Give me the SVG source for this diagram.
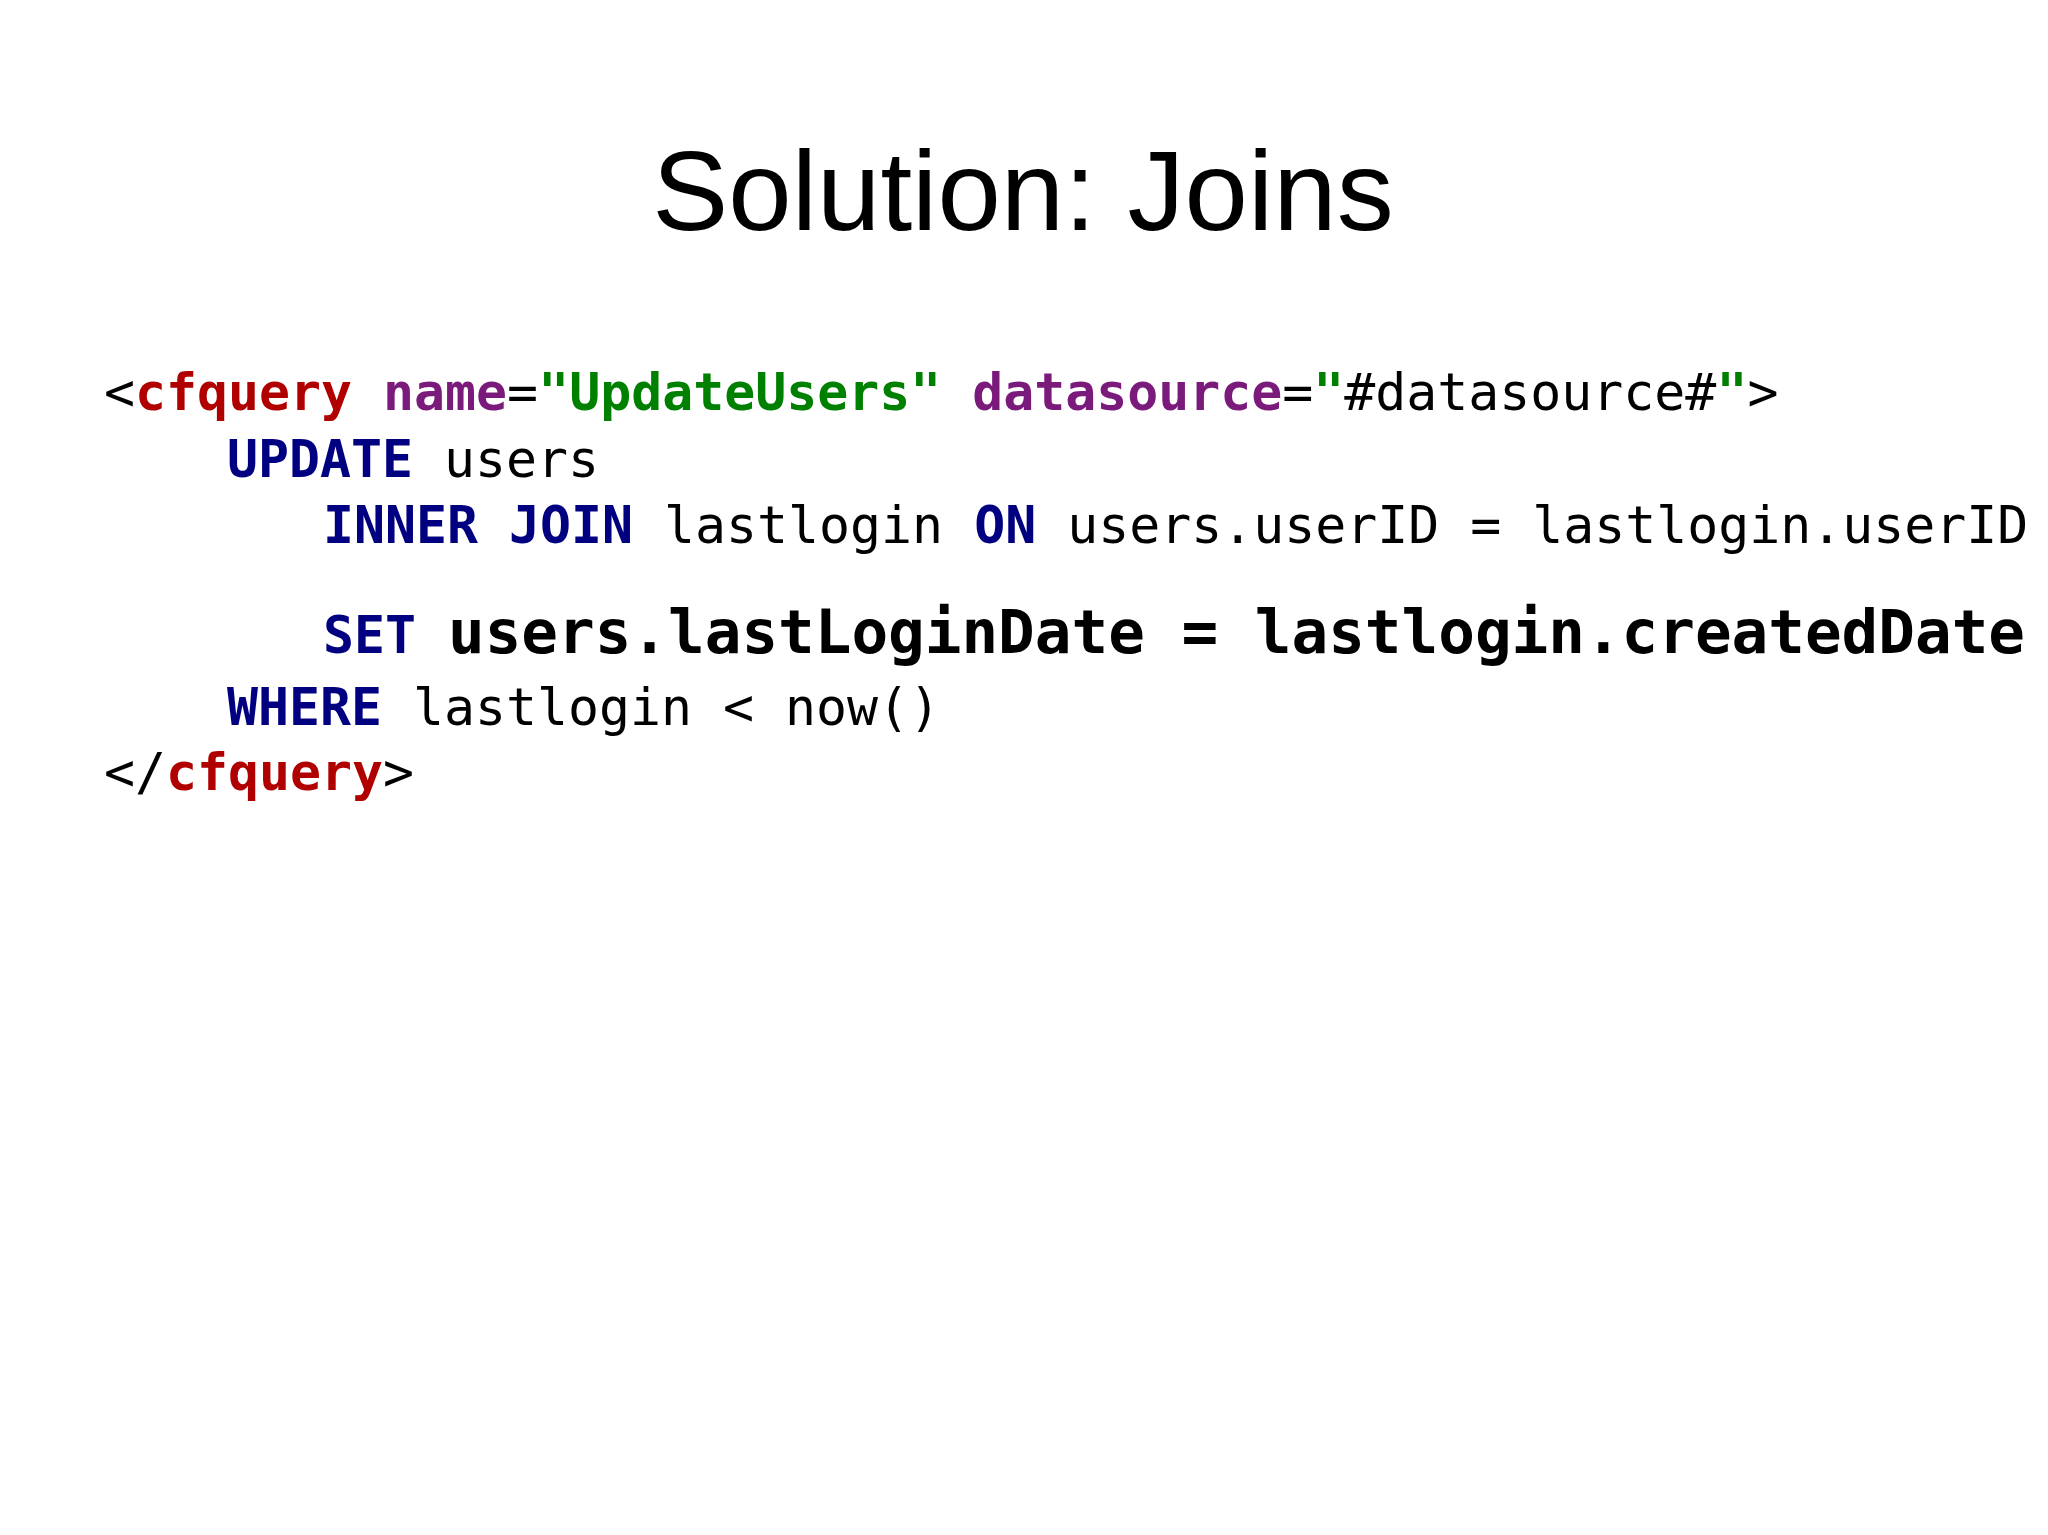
<svg xmlns="http://www.w3.org/2000/svg" width="2048" height="1535" viewBox="0 0 2048 1535">
<style>
.t{font-family:"Liberation Sans",Arial,sans-serif;font-size:114px;fill:#000}
.c{font-family:"DejaVu Sans Mono","Liberation Mono",monospace;font-size:51.5px;fill:#000}
.k{fill:#000080;font-weight:bold}
.r{fill:#b00000;font-weight:bold}
.p{fill:#7a1a7a;font-weight:bold}
.g{fill:#008000;font-weight:bold}
</style>
<rect width="2048" height="1535" fill="#fff"/>
<g id="title"><text class="t" x="1023" y="230" text-anchor="middle">Solution: Joins</text></g>
<g id="code" xml:space="preserve">
<text class="c" x="104" y="410">&lt;<tspan class="r">cfquery</tspan> <tspan class="p">name</tspan>=<tspan class="g">"UpdateUsers"</tspan> <tspan class="p">datasource</tspan>=<tspan class="g">"</tspan>#datasource#<tspan class="g">"</tspan>&gt;</text>
<text class="c" x="227" y="477"><tspan class="k">UPDATE</tspan> users</text>
<text class="c" x="323" y="543"><tspan class="k">INNER JOIN</tspan> lastlogin <tspan class="k">ON</tspan> users.userID = lastlogin.userID</text>
<text class="c" x="323" y="653"><tspan class="k">SET</tspan></text>
<text class="c" x="448" y="653" style="font-size:60px;font-weight:bold" textLength="1577" lengthAdjust="spacingAndGlyphs">users.lastLoginDate = lastlogin.createdDate</text>
<text class="c" x="227" y="725"><tspan class="k">WHERE</tspan> lastlogin &lt; now()</text>
<text class="c" x="104" y="790">&lt;/<tspan class="r">cfquery</tspan>&gt;</text>
</g>
</svg>
